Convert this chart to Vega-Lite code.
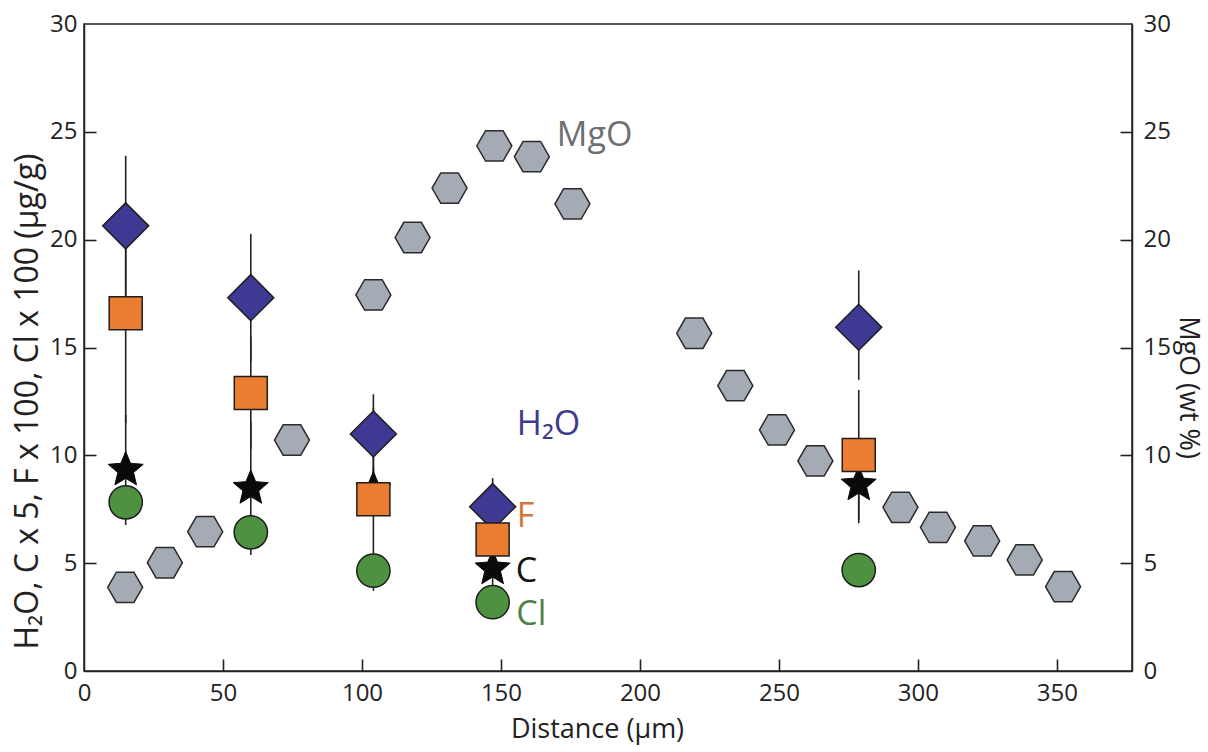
{
  "$schema": "https://vega.github.io/schema/vega-lite/v6.json",
  "width": 1048,
  "height": 647,
  "autosize": {"type": "none"},
  "padding": {"left": 84, "top": 24, "right": 76, "bottom": 81},
  "background": "white",
  "config": {
    "view": {"stroke": "#222", "strokeWidth": 1.5},
    "font": "Open Sans",
    "axis": {
      "grid": false,
      "zindex": 1,
      "domainColor": "#222",
      "domainWidth": 1.5,
      "tickColor": "#222",
      "tickWidth": 1.6,
      "tickSize": 12,
      "labelFont": "Open Sans",
      "labelFontSize": 24,
      "labelColor": "#222",
      "titleFont": "Open Sans",
      "titleFontSize": 27,
      "titleFontWeight": "normal",
      "titleColor": "#222"
    }
  },
  "datasets": {
    "pts": [
      {"s": "C", "x": 15.0, "y": 9.32, "lo": 6.77, "hi": 11.87},
      {"s": "C", "x": 60.0, "y": 8.47, "lo": 5.38, "hi": 11.56},
      {"s": "C", "x": 104.1, "y": 8.4, "lo": 7.4, "hi": 9.4},
      {"s": "C", "x": 147.0, "y": 4.74, "lo": 3.5, "hi": 6.0},
      {"s": "C", "x": 278.7, "y": 8.63, "lo": 6.85, "hi": 10.4},
      {"s": "H2O", "x": 15.0, "y": 20.64, "lo": 17.4, "hi": 23.89},
      {"s": "H2O", "x": 60.0, "y": 17.31, "lo": 14.35, "hi": 20.27},
      {"s": "H2O", "x": 104.1, "y": 10.99, "lo": 9.15, "hi": 12.83},
      {"s": "H2O", "x": 147.0, "y": 7.62, "lo": 6.3, "hi": 8.94},
      {"s": "H2O", "x": 278.7, "y": 15.94, "lo": 13.5, "hi": 18.57},
      {"s": "F", "x": 15.0, "y": 16.59, "lo": 11.5, "hi": 21.7},
      {"s": "F", "x": 60.0, "y": 12.89, "lo": 10.3, "hi": 15.5},
      {"s": "F", "x": 104.1, "y": 7.96, "lo": 3.72, "hi": 12.2},
      {"s": "F", "x": 147.0, "y": 6.1, "lo": 5.2, "hi": 7.0},
      {"s": "F", "x": 278.7, "y": 10.02, "lo": 7.0, "hi": 13.03},
      {"s": "Cl", "x": 15.0, "y": 7.82},
      {"s": "Cl", "x": 60.0, "y": 6.43},
      {"s": "Cl", "x": 104.1, "y": 4.65},
      {"s": "Cl", "x": 147.0, "y": 3.19},
      {"s": "Cl", "x": 278.7, "y": 4.68}
    ],
    "mgo": [
      {"x": 14.8, "y": 3.88},
      {"x": 29.1, "y": 5.02},
      {"x": 43.6, "y": 6.46},
      {"x": 74.8, "y": 10.71},
      {"x": 104.1, "y": 17.44},
      {"x": 118.2, "y": 20.1},
      {"x": 131.5, "y": 22.39},
      {"x": 147.6, "y": 24.35},
      {"x": 161.1, "y": 23.85},
      {"x": 175.7, "y": 21.66},
      {"x": 219.5, "y": 15.66},
      {"x": 234.3, "y": 13.23},
      {"x": 249.3, "y": 11.18},
      {"x": 263.1, "y": 9.74},
      {"x": 293.7, "y": 7.59},
      {"x": 307.2, "y": 6.66},
      {"x": 323.1, "y": 6.03},
      {"x": 338.4, "y": 5.15},
      {"x": 352.2, "y": 3.91}
    ],
    "labels": [
      {"label": "H₂O", "x": 155.7, "y": 10.95},
      {"label": "F", "x": 155.7, "y": 6.69},
      {"label": "C", "x": 155.3, "y": 4.14},
      {"label": "Cl", "x": 155.5, "y": 2.13},
      {"label": "MgO", "x": 170.1, "y": 24.35}
    ]
  },
  "layer": [
    {
      "layer": [
        {
          "data": {"name": "pts"},
          "transform": [{"filter": "isValid(datum.lo)"}],
          "mark": {"type": "rule", "color": "#222", "strokeWidth": 1.6},
          "encoding": {
            "x": {"field": "x", "type": "quantitative", "title": "Distance (µm)"},
            "y": {"field": "lo", "type": "quantitative", "title": "H₂O, C x 5, F x 100, Cl x 100 (µg/g)"},
            "y2": {"field": "hi"}
          }
        },
        {
          "data": {"name": "pts"},
          "transform": [{"filter": "datum.s === 'C'"}],
          "mark": {"type": "point", "filled": true, "opacity": 1, "fill": "#0a0a0a", "stroke": "#0a0a0a", "strokeWidth": 1, "size": 1354,
                   "shape": "M0,-1L0.2645,-0.364L0.9511,-0.309L0.428,0.139L0.5878,0.809L0,0.45L-0.5878,0.809L-0.428,0.139L-0.9511,-0.309L-0.2645,-0.364Z"},
          "encoding": {
            "x": {"field": "x", "type": "quantitative", "title": "Distance (µm)"},
            "y": {"field": "y", "type": "quantitative", "title": "H₂O, C x 5, F x 100, Cl x 100 (µg/g)"}
          }
        },
        {
          "data": {"name": "pts"},
          "transform": [{"filter": "datum.s === 'H2O'"}],
          "mark": {"type": "point", "filled": true, "opacity": 1, "fill": "#3e3a94", "stroke": "#1e1e1e", "strokeWidth": 1.5, "size": 2116, "shape": "M-1,0L0,-1L1,0L0,1Z"},
          "encoding": {
            "x": {"field": "x", "type": "quantitative", "title": "Distance (µm)"},
            "y": {"field": "y", "type": "quantitative", "title": "H₂O, C x 5, F x 100, Cl x 100 (µg/g)"}
          }
        },
        {
          "data": {"name": "pts"},
          "transform": [{"filter": "datum.s === 'F'"}],
          "mark": {"type": "point", "filled": true, "opacity": 1, "fill": "#ea7d2f", "stroke": "#1e1e1e", "strokeWidth": 1.5, "size": 1089, "shape": "M-1,-1L1,-1L1,1L-1,1Z"},
          "encoding": {
            "x": {"field": "x", "type": "quantitative", "title": "Distance (µm)"},
            "y": {"field": "y", "type": "quantitative", "title": "H₂O, C x 5, F x 100, Cl x 100 (µg/g)"}
          }
        },
        {
          "data": {"name": "pts"},
          "transform": [{"filter": "datum.s === 'Cl'"}],
          "mark": {"type": "point", "filled": true, "opacity": 1, "fill": "#4e9140", "stroke": "#1e1e1e", "strokeWidth": 1.5, "size": 1110, "shape": "circle"},
          "encoding": {
            "x": {"field": "x", "type": "quantitative", "title": "Distance (µm)"},
            "y": {"field": "y", "type": "quantitative", "title": "H₂O, C x 5, F x 100, Cl x 100 (µg/g)"}
          }
        }
      ],
      "encoding": {
        "x": {
          "scale": {"domain": [0, 377], "nice": false, "zero": false},
          "axis": {
            "orient": "bottom",
            "values": [0, 50, 100, 150, 200, 250, 300, 350],
            "ticks": false,
            "labelPadding": 10,
            "labelFlush": false,
            "titleX": 513,
            "titleY": 66,
            "titleBaseline": "alphabetic",
            "titleAlign": "center"
          }
        },
        "y": {
          "scale": {"domain": [0, 30], "nice": false},
          "axis": {
            "orient": "left",
            "values": [0, 5, 10, 15, 20, 25, 30],
            "ticks": false,
            "labelPadding": 7,
            "titleX": -47,
            "titleY": 377,
            "titleFontSize": 32,
            "titleAngle": -90,
            "titleBaseline": "alphabetic",
            "titleAlign": "center"
          }
        }
      }
    },
    {
      "data": {"name": "mgo"},
      "mark": {"type": "point", "filled": true, "opacity": 1, "fill": "#a5abb4", "stroke": "#2a2a2a", "strokeWidth": 1.5, "size": 1225, "shape": "M-1,0L-0.5,-0.866L0.5,-0.866L1,0L0.5,0.866L-0.5,0.866Z"},
      "encoding": {
        "x": {
          "field": "x", "type": "quantitative", "title": null,
          "scale": {"domain": [0, 377], "nice": false, "zero": false},
          "axis": {"orient": "bottom", "offset": -12, "ticks": true, "tickSize": 12, "domain": false, "labels": false, "title": null, "values": [50, 100, 150, 200, 250, 300, 350]}
        },
        "y": {
          "field": "y", "type": "quantitative", "title": "MgO (wt %)",
          "scale": {"domain": [0, 30], "nice": false},
          "axis": {
            "orient": "right",
            "values": [0, 5, 10, 15, 20, 25, 30],
            "ticks": false,
            "labelPadding": 11,
            "titleX": 55,
            "titleY": 363,
            "titleFontSize": 27,
            "titleAngle": 90,
            "titleBaseline": "middle",
            "titleAlign": "center"
          }
        }
      }
    },
    {
      "data": {"name": "labels"},
      "transform": [{"filter": "datum.label !== 'MgO'"}],
      "mark": {"type": "text", "align": "left", "baseline": "alphabetic", "fontSize": 34, "font": "Open Sans"},
      "encoding": {
        "x": {"field": "x", "type": "quantitative", "scale": {"domain": [0, 377], "nice": false, "zero": false}, "axis": null},
        "y": {
          "field": "y", "type": "quantitative", "title": null,
          "scale": {"domain": [0, 30], "nice": false},
          "axis": {"orient": "left", "offset": -12, "ticks": true, "tickSize": 12, "domain": false, "labels": false, "title": null, "values": [5, 10, 15, 20, 25]}
        },
        "text": {"field": "label"},
        "color": {
          "field": "label", "type": "nominal", "legend": null,
          "scale": {"domain": ["H₂O", "F", "C", "Cl", "MgO"], "range": ["#3d3a8c", "#d4773a", "#111111", "#4f7f45", "#6d6f73"]}
        }
      }
    },
    {
      "data": {"name": "labels"},
      "transform": [{"filter": "datum.label === 'MgO'"}],
      "mark": {"type": "text", "align": "left", "baseline": "alphabetic", "fontSize": 34, "font": "Open Sans", "color": "#6d6f73"},
      "encoding": {
        "x": {"field": "x", "type": "quantitative", "scale": {"domain": [0, 377], "nice": false, "zero": false}, "axis": null},
        "y": {
          "field": "y", "type": "quantitative", "title": null,
          "scale": {"domain": [0, 30], "nice": false},
          "axis": {"orient": "right", "offset": -12, "ticks": true, "tickSize": 12, "domain": false, "labels": false, "title": null, "values": [5, 10, 15, 20, 25]}
        },
        "text": {"field": "label"}
      }
    }
  ],
  "resolve": {"scale": {"x": "independent", "y": "independent"}}
}
